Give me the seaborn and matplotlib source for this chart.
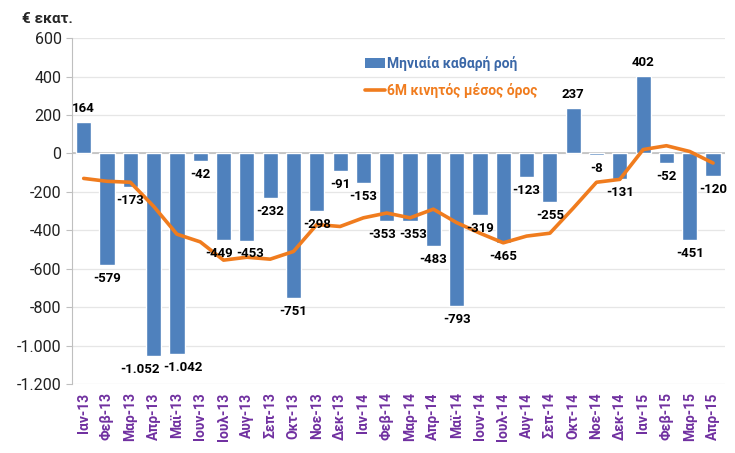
import numpy as np
import pandas as pd
import matplotlib
matplotlib.use("Agg")
import matplotlib.pyplot as plt
import seaborn as sns
from matplotlib.patches import Patch
from matplotlib.lines import Line2D

# ---- data ----
months = ["Ιαν-13", "Φεβ-13", "Μαρ-13", "Απρ-13", "Μαϊ-13", "Ιουν-13",
          "Ιουλ-13", "Αυγ-13", "Σεπ-13", "Οκτ-13", "Νοε-13", "Δεκ-13",
          "Ιαν-14", "Φεβ-14", "Μαρ-14", "Απρ-14", "Μαϊ-14", "Ιουν-14",
          "Ιουλ-14", "Αυγ-14", "Σεπ-14", "Οκτ-14", "Νοε-14", "Δεκ-14",
          "Ιαν-15", "Φεβ-15", "Μαρ-15", "Απρ-15"]
monthly_flow = [164, -579, -173, -1052, -1042, -42, -449, -453, -232, -751,
                -298, -91, -153, -353, -353, -483, -793, -319, -465, -123,
                -255, 237, -8, -131, 402, -52, -451, -120]
moving_avg = [-130, -145, -150, -275, -420, -460, -555, -540, -550, -510,
              -370, -380, -335, -310, -335, -290, -360, -415, -465, -430,
              -415, -285, -150, -135, 20, 40, 10, -50]
y_ticks = [600, 400, 200, 0, -200, -400, -600, -800, -1000, -1200]

BAR_COLOR  = "#4F81BD"
LINE_COLOR = "#F07C1E"
TICK_COLOR = "#7030A0"

df = pd.DataFrame({"month": months, "flow": monthly_flow, "ma": moving_avg})

sns.set_style("white")
plt.rcParams["font.family"] = ["Roboto", "DejaVu Sans"]

fig = plt.figure(figsize=(7.35, 4.53), dpi=100)
ax = fig.add_axes([0.098, 0.152, 0.888, 0.764])

sns.barplot(data=df, x="month", y="flow", color=BAR_COLOR, width=0.65,
            saturation=1, ax=ax, zorder=2)
sns.lineplot(data=df, x="month", y="ma", sort=False, color=LINE_COLOR,
             linewidth=2.6, ax=ax, zorder=3)

# data labels
fmt = lambda v: f"{v:,}".replace(",", ".")
anns = ax.bar_label(ax.containers[0], labels=[fmt(v) for v in monthly_flow],
                    padding=5, fontsize=9.5, fontweight="bold", color="black",
                    zorder=4)
# neighbouring labels are nudged apart, as in the original
for i, dx in {3: -10, 4: 4, 6: -3, 7: 2, 13: -3, 14: 2}.items():
    anns[i].xyann = (dx, anns[i].xyann[1])

# axes styling
ax.set_ylim(-1200, 600)
ax.set_xlim(-0.5, len(months) - 0.5)
ax.set_yticks(y_ticks)
ax.set_yticklabels([fmt(v) for v in y_ticks], fontsize=11.5, color="#222222")
ax.set_xticks(range(len(months)))
ax.set_xticklabels(months, rotation=90, fontsize=10, fontweight="bold",
                   color=TICK_COLOR)
ax.tick_params(axis="x", length=0, pad=6)
ax.tick_params(axis="y", length=4, color="#BFBFBF", left=True)
ax.set_xlabel("")
ax.set_ylabel("")
ax.grid(axis="y", color="#E6E6E6", linewidth=0.9, zorder=0)
ax.axhline(0, color="#BFBFBF", linewidth=1.2, zorder=1)
for s in ["top", "right", "bottom"]:
    ax.spines[s].set_visible(False)
ax.spines["left"].set_color("#BFBFBF")

fig.text(0.03, 0.958, "€ εκατ.", fontsize=11, fontweight="bold",
         ha="left", va="center")

handles = [Patch(facecolor=BAR_COLOR, edgecolor="none"),
           Line2D([0], [0], color=LINE_COLOR, linewidth=2.6)]
leg = ax.legend(handles, ["Μηνιαία καθαρή ροή", "6M κινητός μέσος όρος"],
                loc="upper left", bbox_to_anchor=(0.43, 0.985), frameon=False,
                handlelength=1.4, handletextpad=0.2, labelspacing=0.9,
                prop={"size": 10, "weight": "bold"},
                labelcolor=["#3B68A8", LINE_COLOR])

fig.savefig("out.png", dpi=100)
